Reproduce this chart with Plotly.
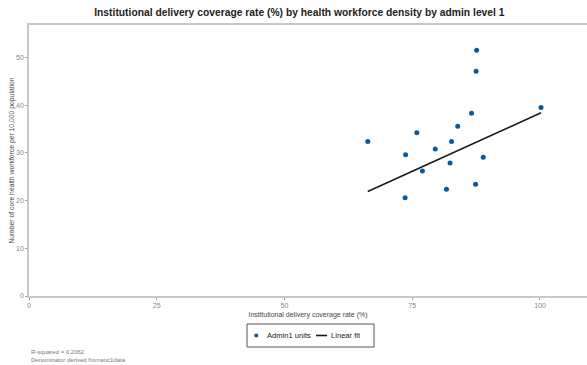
import plotly.graph_objects as go
import numpy as np

# Admin-1 units: institutional delivery coverage (%) vs. health workforce density
coverage = [87.6, 87.5, 100.2, 86.6, 83.9, 75.9, 66.3, 82.7, 79.5, 73.7,
            88.9, 82.4, 77.0, 87.4, 81.7, 73.6]
workforce = [51.5, 47.1, 39.5, 38.3, 35.6, 34.2, 32.4, 32.4, 30.8, 29.6,
             29.1, 27.9, 26.2, 23.4, 22.4, 20.6]

# Linear fit coefficients
fit_intercept = -10.4
fit_slope = 0.487

x_ticks = [0, 25, 50, 75, 100]
y_ticks = [0, 10, 20, 30, 40, 50]

fx = np.array([min(coverage), max(coverage)])
fy = fit_intercept + fit_slope * fx

FONT = "Liberation Sans, Arial, sans-serif"
GREY = "#c8c8c8"
DOT = "#0b5a9a"
LINE = "#1a1a1a"

W, H = 587, 365
ML, MR, MT, MB = 29, 0, 25, 69
PW, PH = W - ML - MR, H - MT - MB


def px(x):
    """pixel x -> paper x"""
    return (x - ML) / PW


def py(y):
    """pixel y -> paper y"""
    return (H - MB - y) / PH


fig = go.Figure()
fig.add_trace(go.Scatter(
    x=coverage, y=workforce, mode="markers", name="Admin1 units",
    marker=dict(color=DOT, size=5, line=dict(width=0)),
))
fig.add_trace(go.Scatter(
    x=fx, y=fy, mode="lines", name="Linear fit",
    line=dict(color=LINE, width=1.6),
))

fig.update_layout(
    width=W, height=H,
    margin=dict(l=ML, r=MR, t=MT, b=MB),
    paper_bgcolor="white", plot_bgcolor="white",
    font=dict(family=FONT, color="#333"),
    title=dict(
        text="<b>Institutional delivery coverage rate (%) by health workforce density by admin level 1</b>",
        x=0.51, xanchor="center", y=0.966, yanchor="middle",
        font=dict(size=10.3, color="#222", family=FONT),
    ),
    showlegend=False,
    xaxis=dict(
        range=[0, 109.2], tickvals=x_ticks, showgrid=False, zeroline=False,
        showline=True, linecolor=GREY, linewidth=1.5, mirror=True,
        ticks="outside", ticklen=2, tickcolor="#999",
        tickfont=dict(size=7, color="#888"),
        title=dict(text="Institutional delivery coverage rate (%)",
                   font=dict(size=7, color="#444"), standoff=4),
    ),
    yaxis=dict(
        range=[0, 56.8], tickvals=y_ticks, showgrid=False, zeroline=False,
        showline=True, linecolor=GREY, linewidth=1.5,
        ticks="outside", ticklen=2, tickcolor="#999",
        tickfont=dict(size=7, color="#888"),
        title=dict(text="Number of core health workforce per 10,000 population",
                   font=dict(size=6.8, color="#444"), standoff=1),
    ),
)

# Compact legend box below the plot
legend_items = [("Admin1 units", "marker"), ("Linear fit", "line")]
fig.add_shape(type="rect", xref="paper", yref="paper",
              x0=px(247), x1=px(374), y0=py(347), y1=py(324),
              line=dict(color="#555", width=1), fillcolor="white")
fig.add_shape(type="circle", xref="paper", yref="paper",
              x0=px(254.3), x1=px(258.3), y0=py(337.5), y1=py(333.5),
              line=dict(width=0), fillcolor=DOT)
fig.add_shape(type="line", xref="paper", yref="paper",
              x0=px(316), x1=px(327), y0=py(335.5), y1=py(335.5),
              line=dict(color=LINE, width=1.6))
for (label, _), xpix in zip(legend_items, [265, 329]):
    fig.add_annotation(text=label, xref="paper", yref="paper",
                       x=px(xpix), y=py(335.5), xanchor="left", yanchor="middle",
                       showarrow=False, font=dict(size=7.6, color="#222", family=FONT))

fig.add_annotation(
    text="R-squared = 0.2062<br>Denominator derived fromanc1data",
    xref="paper", yref="paper", x=0, y=-0.19, xanchor="left", yanchor="top",
    align="left", showarrow=False, font=dict(size=6, color="#777", family=FONT),
)

fig.write_html("out.html")
